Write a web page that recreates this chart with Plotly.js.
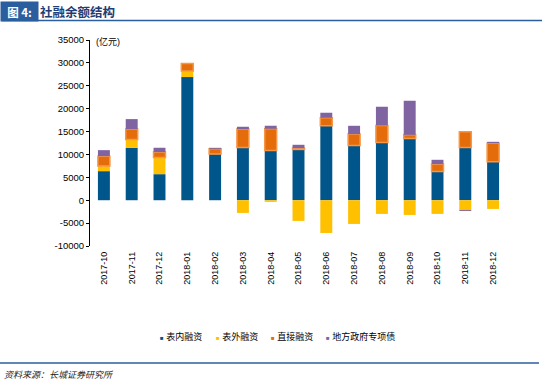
<!DOCTYPE html>
<html>
<head>
<meta charset="utf-8">
<script src="https://cdn.plot.ly/plotly-3.0.1.min.js"></script>
<style>html,body{margin:0;padding:0;background:#fff;}#chart{width:542px;height:385px;}</style>
</head>
<body>
<div id="chart"></div>
<script>
const months = ['2017-10','2017-11','2017-12','2018-01','2018-02','2018-03','2018-04','2018-05','2018-06','2018-07','2018-08','2018-09','2018-10','2018-11','2018-12'];
const onBalance = [6350, 11450, 5690, 26900, 10070, 11520, 10870, 11090, 16270, 11960, 12620, 13490, 6270, 11520, 8390];
const offBalance = [1150, 1820, 3650, 1310, 0, -2770, -360, -4520, -7150, -5180, -2990, -3210, -2990, -2120, -1900];
const directFinance = [2130, 2270, 1170, 1680, 1160, 4020, 4740, 290, 1750, 2480, 3720, 800, 1610, 3430, 4080];
const localGovBonds = [1310, 2180, 950, 0, 220, 510, 660, 730, 1090, 1820, 4080, 7440, 950, -220, 290];
const seriesNames = ['表内融资', '表外融资', '直接融资', '地方政府专项债'];
const yTickVals = [-10000, -5000, 0, 5000, 10000, 15000, 20000, 25000, 30000, 35000];
const yTickText = ['-10000', '-5000', '0', '5000', '10000', '15000', '20000', '25000', '30000', '35000'];

const colors = ['#00558A', '#FFC000', '#E46C0A', '#8064A2'];
const values = [onBalance, offBalance, directFinance, localGovBonds];
const legendIds = ['legend', 'legend2', 'legend3', 'legend4'];
const traces = values.map((v, i) => ({
  type: 'bar',
  name: seriesNames[i],
  x: months,
  y: v,
  showlegend: false,
  marker: {
    color: colors[i],
    line: i === 2 ? {color: '#F79646', width: 1.5} : {width: 0}
  },
  hoverinfo: 'x+y+name'
}));
// legend entries: compact colored square + label, one small legend per series
seriesNames.forEach((n, i) => {
  traces.push({
    type: 'scatter', mode: 'markers', x: [null], y: [null],
    name: '<span style="color:' + colors[i] + ';font-size:6px">■</span> ' + n,
    marker: {opacity: 0, size: 0, color: 'rgba(0,0,0,0)', line: {width: 0, color: 'rgba(0,0,0,0)'}},
    legend: legendIds[i],
    showlegend: true, hoverinfo: 'skip'
  });
});

const W = 417, H = 206, L = 90, T = 40;
const px = x => (x - L) / W;
const py = y => (T + H - y) / H;

const legendX = [120, 176, 231, 286];
const layout = {
  width: 542, height: 385,
  margin: {l: L, r: 542 - L - W, t: T, b: 385 - T - H},
  paper_bgcolor: '#fff', plot_bgcolor: '#fff',
  font: {family: 'Liberation Sans, Arial, "Noto Sans CJK SC"', size: 9, color: '#000'},
  barmode: 'relative',
  bargap: 0.57,
  showlegend: true,
  xaxis: {
    type: 'category', categoryorder: 'array', categoryarray: months,
    range: [-0.5, months.length - 0.5],
    showline: false, showgrid: false, zeroline: false, ticks: '',
    tickangle: -90, tickfont: {size: 9}, ticklabelstandoff: 3
  },
  xaxis2: {
    overlaying: 'x', anchor: 'free', position: 10000 / 45000,
    range: [-0.5, months.length - 0.5],
    tickvals: months.map((m, i) => i + 0.5),
    ticks: 'outside', ticklen: 3, tickcolor: '#000', tickwidth: 1,
    showticklabels: false, showgrid: false, zeroline: false,
    showline: true, linecolor: '#000', linewidth: 1
  },
  yaxis: {
    range: [-10000, 35000],
    tickvals: yTickVals, ticktext: yTickText,
    showgrid: false, zeroline: false,
    showline: true, linecolor: '#000', linewidth: 1,
    ticks: 'outside', ticklen: 3, tickcolor: '#000',
    tickfont: {size: 9.5}
  },
  shapes: [
    {type: 'line', xref: 'paper', yref: 'paper', x0: px(2), x1: px(542), y0: py(20.5), y1: py(20.5), line: {color: '#2B5E9E', width: 1.5}},
    {type: 'line', xref: 'paper', yref: 'paper', x0: px(0), x1: px(539), y0: py(363), y1: py(363), line: {color: '#2B5E9E', width: 1.5}}
  ],
  annotations: [
    {xref: 'paper', yref: 'paper', x: px(19.5), y: py(11.5), xanchor: 'center', yanchor: 'middle',
     text: '<b>图 4:</b>', showarrow: false, bgcolor: '#2B5E9E', width: 35, height: 17,
     font: {family: '"Noto Sans CJK SC"', size: 11.5, color: '#fff'}},
    {xref: 'paper', yref: 'paper', x: px(38), y: py(11.5), xanchor: 'left', yanchor: 'middle',
     text: '<b>社融余额结构</b>', showarrow: false,
     font: {family: '"Noto Sans CJK SC"', size: 12.5, color: '#1F3C74'}},
    {xref: 'paper', yref: 'paper', x: px(94), y: py(41), xanchor: 'left', yanchor: 'middle',
     text: '(亿元)', showarrow: false,
     font: {family: 'Liberation Sans, "Noto Sans CJK SC"', size: 9, color: '#000'}},
    {xref: 'paper', yref: 'paper', x: px(2), y: py(374), xanchor: 'left', yanchor: 'middle',
     text: '<i>资料来源：长城证券研究所</i>', showarrow: false,
     font: {family: '"Noto Sans CJK SC"', size: 9, color: '#222'}}
  ]
};
legendIds.forEach((id, i) => {
  layout[id] = {
    orientation: 'h', x: px(legendX[i]), xanchor: 'left', y: py(336), yanchor: 'middle',
    font: {family: 'Liberation Sans, "Noto Sans CJK SC"', size: 9},
    itemwidth: 30, bgcolor: 'rgba(0,0,0,0)'
  };
});

Plotly.newPlot('chart', traces, layout, {displayModeBar: false, staticPlot: true});
</script>
</body>
</html>
